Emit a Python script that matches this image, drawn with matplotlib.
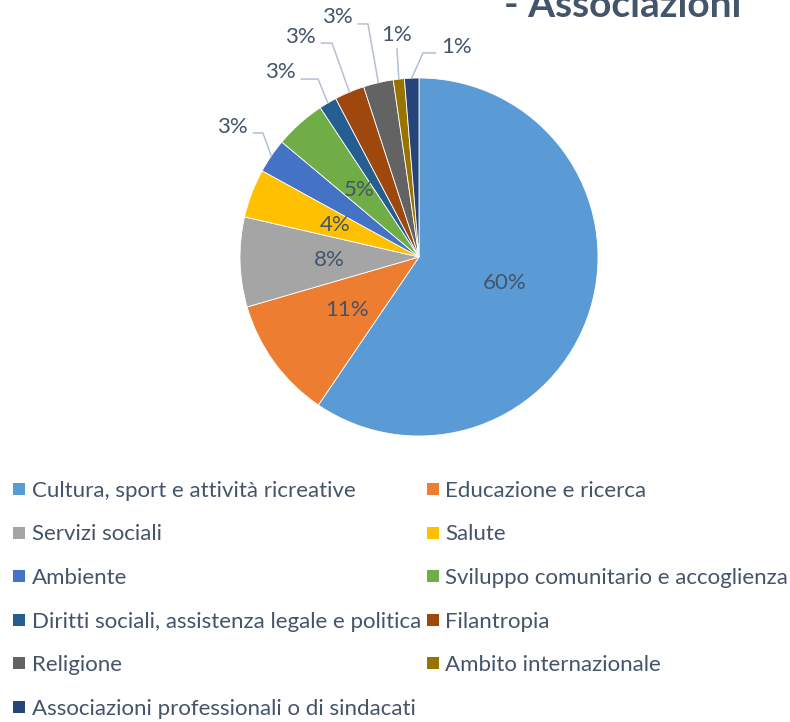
import numpy as np
import matplotlib
matplotlib.use('Agg')
import matplotlib.pyplot as plt
from matplotlib.lines import Line2D

plt.rcParams['font.family'] = ['Lato', 'DejaVu Sans']

TXT = '#44546A'
LEADER = '#B4C0D0'

# Slice shares (%), clockwise from 12 o'clock
categories = [
    'Cultura, sport e attività ricreative',
    'Educazione e ricerca',
    'Servizi sociali',
    'Salute',
    'Ambiente',
    'Sviluppo comunitario e accoglienza',
    'Diritti sociali, assistenza legale e politica',
    'Filantropia',
    'Religione',
    'Ambito internazionale',
    'Associazioni professionali o di sindacati',
]
shares = [59.5, 11.0, 8.1, 4.4, 3.1, 4.6, 1.6, 2.7, 2.7, 1.0, 1.3]
# labels as printed on the chart
pct_labels = ['60%', '11%', '8%', '4%', '3%', '5%', '3%', '3%', '3%', '1%', '1%']
colors = ['#5B9BD5', '#ED7D31', '#A5A5A5', '#FFC000', '#4472C4', '#70AD47',
          '#255E91', '#9E480E', '#636363', '#997300', '#264478']

# layout of the outside labels: slice index -> (label centre, elbow point) in pie units
outside = {
    4: ((-1.045, 0.726), (-0.872, 0.693)),
    6: ((-0.777, 1.034), (-0.564, 0.994)),
    7: ((-0.665, 1.229), (-0.486, 1.195)),
    8: ((-0.458, 1.341), (-0.285, 1.302)),
    9: ((-0.123, 1.240), (-0.117, 1.173)),
    10: ((0.212, 1.173), (0.022, 1.140)),
}

W, H = 790, 722
fig = plt.figure(figsize=(W / 100, H / 100), dpi=100)

cx, cy, R = 419, 257, 179
ax = fig.add_axes([(cx - R) / W, (H - cy - R) / H, 2 * R / W, 2 * R / H])
wedges, _ = ax.pie(shares, colors=colors, startangle=90, counterclock=False,
                   radius=1, wedgeprops=dict(edgecolor='white', linewidth=0.6))
ax.set_xlim(-1, 1)
ax.set_ylim(-1, 1)
ax.set_aspect('equal')
ax.axis('off')

for i, w in enumerate(wedges):
    mid = np.deg2rad((w.theta1 + w.theta2) / 2)
    if i in outside:
        (lx, ly), (ex, ey) = outside[i]
        px, py = np.cos(mid), np.sin(mid)
        if abs(ex - lx) < 0.02:
            xs, ys = [lx, px], [ly - 0.075, py]
        else:
            sx = lx + (0.12 if ex > lx else -0.12)
            xs, ys = [sx, ex, px], [ey, ey, py]
        ax.plot(xs, ys, color=LEADER, lw=1.1, clip_on=False)
        ax.text(lx, ly, pct_labels[i], ha='center', va='center',
                fontsize=16, color=TXT, clip_on=False)
    else:
        ax.text(0.5 * np.cos(mid), 0.5 * np.sin(mid), pct_labels[i],
                ha='center', va='center', fontsize=16, color=TXT)

fig.text(504 / W, 1 - 17 / H, '- Associazioni', ha='left', va='baseline',
         fontsize=28, fontweight='bold', color=TXT)

order = [0, 2, 4, 6, 8, 10, 1, 3, 5, 7, 9]
handles = [Line2D([], [], ls='', marker='s', markersize=8.5, color=colors[i],
                  markeredgewidth=0) for i in order]
fig.legend(handles, [categories[i] for i in order], ncol=2,
           loc='upper left', bbox_to_anchor=(4 / W, 1 - 472 / H),
           frameon=False, fontsize=16, labelcolor=TXT,
           handlelength=0.55, handletextpad=0.3, labelspacing=1.06,
           columnspacing=0.25, borderaxespad=0)

fig.savefig('out.png', dpi=100)
